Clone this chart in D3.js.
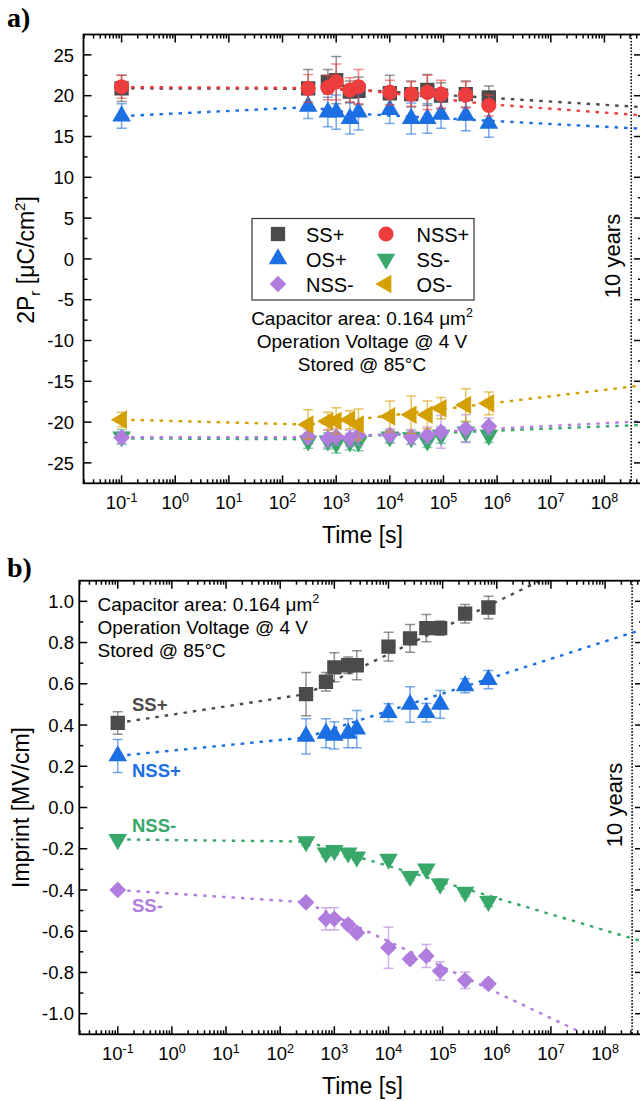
<!DOCTYPE html>
<html><head><meta charset="utf-8">
<script src="https://cdn.jsdelivr.net/npm/d3@7/dist/d3.min.js"></script>
<style>
body{margin:0;background:#fff}
svg text{font-family:"Liberation Sans",Arial,sans-serif;fill:#000}
</style>
</head><body>
<script>
// ---------- data ----------
const times = [0.1, 300, 700, 1000, 1800, 2600, 1e4, 2.5e4, 5e4, 9e4, 2.6e5, 7e5];
const tenYears = 3.1536e8;
const xMajorExp = [-1, 0, 1, 2, 3, 4, 5, 6, 7, 8];

// panel a : 2Pr [uC/cm2]
const ssPlusA   = [20.9, 20.9, 21.7, 21.9, 20.5, 20.6, 20.3, 20.2, 20.7, 20.0, 20.2, 19.8];
const ssPlusAErr= [1.6, 2.3, 1.5, 2.9, 1.3, 1.7, 2.2, 1.6, 1.9, 1.6, 1.6, 1.4];
const nssPlusA  = [21.1, 20.9, 21.0, 21.7, 20.7, 21.1, 20.4, 20.2, 20.4, 20.2, 20.1, 18.8];
const nssPlusAErr=[1.4, 1.7, 1.5, 2.2, 1.5, 2.1, 1.5, 1.5, 2.1, 1.7, 1.6, 1.3];
const osPlusA   = [17.5, 18.7, 18.0, 18.0, 17.2, 18.0, 18.3, 17.2, 17.2, 17.7, 17.6, 16.6];
const osPlusAErr= [1.5, 1.5, 1.8, 2.1, 1.9, 2.2, 1.7, 1.9, 1.8, 1.7, 1.9, 1.7];
const ssMinusA  = [-21.8, -22.3, -22.3, -22.6, -22.4, -22.4, -21.8, -21.9, -22.3, -21.6, -21.2, -21.6];
const ssMinusAErr=[0.9, 0.9, 1.0, 1.2, 1.0, 1.1, 0.8, 0.8, 0.8, 1.0, 1.2, 0.9];
const nssMinusA = [-21.9, -21.8, -22.0, -21.8, -22.0, -21.6, -21.6, -21.8, -21.6, -21.2, -20.8, -20.5];
const nssMinusAErr=[0.7, 0.9, 1.1, 1.0, 1.0, 1.2, 0.8, 0.9, 1.0, 2.0, 1.7, 1.0];
const osMinusA  = [-19.7, -20.3, -19.9, -19.85, -19.7, -20.3, -19.3, -19.1, -19.1, -18.3, -17.9, -17.7];
const osMinusAErr=[0.9, 1.8, 1.1, 1.6, 1.1, 1.9, 1.9, 2.3, 1.7, 1.3, 2.0, 1.4];

// trend (dotted) lines panel a : [time, value]
const ssPlusTrendA  = [[0.1, 20.9], [300, 20.85], [3000, 20.7], [5e8, 18.6]];
const nssPlusTrendA = [[0.1, 21.05], [300, 20.95], [3000, 20.7], [7e5, 18.95], [5e8, 17.6]];
const osPlusTrendA  = [[0.1, 17.5], [300, 18.6], [3000, 17.75], [5e8, 15.95]];
const ssMinusTrendA = [[0.1, -22.0], [300, -22.1], [3000, -21.7], [5e8, -20.35]];
const nssMinusTrendA= [[0.1, -21.85], [300, -21.85], [3000, -21.65], [5e8, -19.9]];
const osMinusTrendA = [[0.1, -19.7], [300, -20.3], [3000, -19.6], [5e8, -15.5]];

// panel b : Imprint [MV/cm]
const ssPlusB   = [0.41, 0.55, 0.61, 0.68, 0.69, 0.69, 0.78, 0.82, 0.87, 0.87, 0.94, 0.97];
const ssPlusBErr= [0.055, 0.105, 0.045, 0.07, 0.04, 0.07, 0.07, 0.067, 0.066, 0.035, 0.045, 0.055];
const nssPlusB  = [0.25, 0.345, 0.36, 0.35, 0.36, 0.38, 0.46, 0.50, 0.46, 0.50, 0.59, 0.62];
const nssPlusBErr=[0.08, 0.086, 0.07, 0.066, 0.07, 0.09, 0.043, 0.086, 0.045, 0.067, 0.034, 0.044];
const nssMinusB = [-0.155, -0.165, -0.22, -0.208, -0.22, -0.24, -0.25, -0.334, -0.298, -0.371, -0.41, -0.455];
const nssMinusBErr=[0.01, 0.02, 0.02, 0.02, 0.02, 0.015, 0.015, 0.02, 0.02, 0.025, 0.02, 0.025];
const ssMinusB  = [-0.40, -0.46, -0.54, -0.54, -0.568, -0.608, -0.68, -0.735, -0.72, -0.793, -0.838, -0.855];
const ssMinusBErr=[0.01, 0.015, 0.054, 0.054, 0.02, 0.015, 0.1, 0.02, 0.056, 0.045, 0.04, 0.02];

const ssPlusTrendB  = [[0.1, 0.41], [300, 0.55], [1e9, 1.38]];
const nssPlusTrendB = [[0.1, 0.25], [300, 0.34], [1e9, 0.89]];
const nssMinusTrendB= [[0.1, -0.155], [300, -0.165], [1e9, -0.674]];
const ssMinusTrendB = [[0.1, -0.40], [300, -0.46], [1e9, -1.27]];

// colours
const cGray = "#4b4b4b", cRed = "#ee3d3d", cBlue = "#1c6fe2", cGreen = "#37a86a", cPurple = "#b07ddf", cGold = "#d49f00";

// ---------- drawing ----------
const svg = d3.select("body").append("svg").attr("width", 640).attr("height", 1101);

const symSq  = {type: d3.symbolSquare, size: 205, rot: 0};
const symCi  = {type: d3.symbolCircle, size: 180, rot: 0};
const symUp  = {type: d3.symbolTriangle, size: 150, rot: 0};
const symDn  = {type: d3.symbolTriangle, size: 150, rot: 180};
const symLt  = {type: d3.symbolTriangle, size: 150, rot: -90};
const symDi  = {type: d3.symbolSquare, size: 140, rot: 45};

function drawPanel(o) {
  const g = svg.append("g");
  const x = d3.scaleLog().domain([Math.pow(10, -1.71), Math.pow(10, 8.7)]).range([o.left, o.right]);
  const y = d3.scaleLinear().domain(o.yDomain).range([o.bottom, o.top]);
  const clipId = "clip" + o.id;
  svg.append("clipPath").attr("id", clipId).append("rect")
    .attr("x", o.left).attr("y", o.top).attr("width", o.right - o.left).attr("height", o.bottom - o.top);
  const plot = g.append("g").attr("clip-path", `url(#${clipId})`);

  // 10 years line
  plot.append("line").attr("x1", x(tenYears)).attr("x2", x(tenYears))
    .attr("y1", o.top).attr("y2", o.bottom)
    .attr("stroke", "#000").attr("stroke-width", 1.5).attr("stroke-dasharray", "1.6,1.6");

  // trend lines
  const line = d3.line().x(d => x(d[0])).y(d => y(d[1]));
  o.series.forEach(s => {
    plot.append("path").attr("d", line(s.trend)).attr("fill", "none")
      .attr("stroke", s.color).attr("stroke-width", 2.4).attr("stroke-dasharray", "3.5,6");
  });
  // error bars + markers
  o.series.forEach(s => {
    const eg = plot.append("g").attr("stroke", s.color).attr("stroke-opacity", 0.6).attr("stroke-width", 1.5);
    times.forEach((t, i) => {
      const cx = x(t), y1 = y(s.values[i] + s.err[i]), y2 = y(s.values[i] - s.err[i]);
      eg.append("line").attr("x1", cx).attr("x2", cx).attr("y1", y1).attr("y2", y2);
      eg.append("line").attr("x1", cx - 5).attr("x2", cx + 5).attr("y1", y1).attr("y2", y1);
      eg.append("line").attr("x1", cx - 5).attr("x2", cx + 5).attr("y1", y2).attr("y2", y2);
    });
    const sym = d3.symbol().type(s.sym.type).size(s.sym.size);
    plot.append("g").selectAll("path").data(s.values).join("path")
      .attr("d", sym)
      .attr("transform", (v, i) => `translate(${x(times[i])},${y(v)}) rotate(${s.sym.rot})`)
      .attr("fill", s.color);
  });

  // frame
  g.append("rect").attr("x", o.left).attr("y", o.top).attr("width", o.right - o.left).attr("height", o.bottom - o.top)
    .attr("fill", "none").attr("stroke", "#000").attr("stroke-width", 1.8);

  // x ticks (top and bottom, inward)
  const [d0, d1] = x.domain();
  const xMinor = [];
  for (let e = -2; e <= 8; e++) for (let k = 2; k <= 9; k++) { const v = k * Math.pow(10, e); if (v > d0 && v < d1) xMinor.push(v); }
  const xMajor = xMajorExp.map(e => Math.pow(10, e));
  const tg = g.append("g").attr("stroke", "#000").attr("stroke-width", 1.5);
  xMinor.forEach(v => {
    tg.append("line").attr("x1", x(v)).attr("x2", x(v)).attr("y1", o.bottom).attr("y2", o.bottom - 4);
    tg.append("line").attr("x1", x(v)).attr("x2", x(v)).attr("y1", o.top).attr("y2", o.top + 4);
  });
  xMajor.forEach(v => {
    tg.append("line").attr("x1", x(v)).attr("x2", x(v)).attr("y1", o.bottom).attr("y2", o.bottom - 8);
    tg.append("line").attr("x1", x(v)).attr("x2", x(v)).attr("y1", o.top).attr("y2", o.top + 8);
  });
  xMajorExp.forEach(e => {
    const t = g.append("text").attr("x", x(Math.pow(10, e))).attr("y", o.bottom + 25.5)
      .attr("text-anchor", "middle").style("font-size", "18.5px");
    t.append("tspan").text("10");
    t.append("tspan").attr("dy", -7).style("font-size", "12.5px").text(String(e));
  });
  // y ticks (left and right, inward)
  o.yMinor.forEach(v => {
    tg.append("line").attr("x1", o.left).attr("x2", o.left + 4).attr("y1", y(v)).attr("y2", y(v));
    tg.append("line").attr("x1", o.right).attr("x2", o.right - 4).attr("y1", y(v)).attr("y2", y(v));
  });
  o.yMajor.forEach(v => {
    tg.append("line").attr("x1", o.left).attr("x2", o.left + 8).attr("y1", y(v)).attr("y2", y(v));
    tg.append("line").attr("x1", o.right).attr("x2", o.right - 8).attr("y1", y(v)).attr("y2", y(v));
    g.append("text").attr("x", 74).attr("y", y(v)).attr("dy", "0.36em").attr("text-anchor", "end")
      .style("font-size", "18.5px").text(o.yFmt(v));
  });

  // axis titles
  g.append("text").attr("x", 362.5).attr("y", o.bottom + 60).attr("text-anchor", "middle")
    .style("font-size", "23px").text("Time [s]");
  // 10 years label
  g.append("text").attr("transform", `translate(${o.tenX},${o.tenY}) rotate(-90)`)
    .attr("text-anchor", "middle").style("font-size", "22px").text("10 years");
  // panel label
  g.append("text").attr("x", 7).attr("y", o.labelY).text(o.label)
    .style("font-family", "'Liberation Serif','Times New Roman',serif").style("font-weight", "bold").style("font-size", "28px");
  return {g, x, y};
}

// ---------- panel a ----------
const A = drawPanel({
  id: "a", left: 83.5, right: 642, top: 34.5, bottom: 483.3,
  yDomain: [-27.5, 27.5],
  yMajor: d3.range(-25, 26, 5), yMinor: d3.range(-22.5, 23, 5),
  yFmt: v => String(v),
  tenX: 620, tenY: 256, label: "a)", labelY: 27,
  series: [
    {values: ssPlusA, err: ssPlusAErr, trend: ssPlusTrendA, color: cGray, sym: symSq},
    {values: osPlusA, err: osPlusAErr, trend: osPlusTrendA, color: cBlue, sym: symUp},
    {values: ssMinusA, err: ssMinusAErr, trend: ssMinusTrendA, color: cGreen, sym: symDn},
    {values: nssMinusA, err: nssMinusAErr, trend: nssMinusTrendA, color: cPurple, sym: symDi},
    {values: nssPlusA, err: nssPlusAErr, trend: nssPlusTrendA, color: cRed, sym: symCi},
    {values: osMinusA, err: osMinusAErr, trend: osMinusTrendA, color: cGold, sym: symLt}
  ]
});
// y title a
{
  const t = A.g.append("text").attr("transform", "translate(34,260) rotate(-90)")
    .attr("text-anchor", "middle").style("font-size", "23px");
  t.append("tspan").text("2P");
  t.append("tspan").attr("dy", 6).style("font-size", "15px").text("r");
  t.append("tspan").attr("dy", -6).text(" [\u03bcC/cm");
  t.append("tspan").attr("dy", -9).style("font-size", "15px").text("2");
  t.append("tspan").attr("dy", 9).text("]");
}
// legend a
{
  const lg = A.g.append("g");
  lg.append("rect").attr("x", 252).attr("y", 218.5).attr("width", 222).attr("height", 81.5)
    .attr("fill", "#fff").attr("stroke", "#333").attr("stroke-width", 1.2);
  const items = [
    ["SS+", cGray, symSq, 0, 0], ["NSS+", cRed, symCi, 1, 0],
    ["OS+", cBlue, symUp, 0, 1], ["SS-", cGreen, symDn, 1, 1],
    ["NSS-", cPurple, symDi, 0, 2], ["OS-", cGold, symLt, 1, 2]
  ];
  const colX = [278, 386], txtX = [306, 416.5], rowY = [234, 259, 284];
  items.forEach(([name, col, s, c, r]) => {
    lg.append("path").attr("d", d3.symbol().type(s.type).size(s.size))
      .attr("transform", `translate(${colX[c]},${rowY[r]}) rotate(${s.rot})`).attr("fill", col);
    lg.append("text").attr("x", txtX[c]).attr("y", rowY[r] + 7.5).style("font-size", "20px").text(name);
  });
  const ann = [["Capacitor area: 0.164 \u03bcm", "2", 325], ["Operation Voltage @ 4 V", "", 348], ["Stored @ 85\u00b0C", "", 370.5]];
  ann.forEach(([s, sup, yy]) => {
    const t = lg.append("text").attr("x", 362).attr("y", yy).attr("text-anchor", "middle").style("font-size", "19px");
    t.append("tspan").text(s);
    if (sup) t.append("tspan").attr("dy", -8).style("font-size", "12.5px").text(sup);
  });
}

// ---------- panel b ----------
const B = drawPanel({
  id: "b", left: 79.3, right: 643, top: 580.7, bottom: 1034.3,
  yDomain: [-1.1, 1.1],
  yMajor: d3.range(-5, 6).map(k => k * 0.2), yMinor: d3.range(-4.5, 5, 1).map(k => k * 0.2),
  yFmt: v => (Math.abs(v) < 1e-9 ? 0 : v).toFixed(1),
  tenX: 622, tenY: 805, label: "b)", labelY: 577,
  series: [
    {values: ssPlusB, err: ssPlusBErr, trend: ssPlusTrendB, color: cGray, sym: symSq},
    {values: nssPlusB, err: nssPlusBErr, trend: nssPlusTrendB, color: cBlue, sym: symUp},
    {values: nssMinusB, err: nssMinusBErr, trend: nssMinusTrendB, color: cGreen, sym: symDn},
    {values: ssMinusB, err: ssMinusBErr, trend: ssMinusTrendB, color: cPurple, sym: symDi}
  ]
});
B.g.append("text").attr("transform", "translate(28.5,807.5) rotate(-90)")
  .attr("text-anchor", "middle").style("font-size", "23px").text("Imprint [MV/cm]");
{
  const ann = [["Capacitor area: 0.164 \u03bcm", "2", 610.5], ["Operation Voltage @ 4 V", "", 634], ["Stored @ 85\u00b0C", "", 656.5]];
  ann.forEach(([s, sup, yy]) => {
    const t = B.g.append("text").attr("x", 97.5).attr("y", yy).style("font-size", "19px");
    t.append("tspan").text(s);
    if (sup) t.append("tspan").attr("dy", -8).style("font-size", "12.5px").text(sup);
  });
  const labs = [["SS+", cGray, 710.5], ["NSS+", cBlue, 777], ["NSS-", cGreen, 832], ["SS-", cPurple, 912]];
  labs.forEach(([s, c, yy]) => {
    B.g.append("text").attr("x", 132).attr("y", yy).style("font-size", "18.5px").style("font-weight", "bold")
      .style("fill", c).text(s);
  });
}
</script>
</body></html>
